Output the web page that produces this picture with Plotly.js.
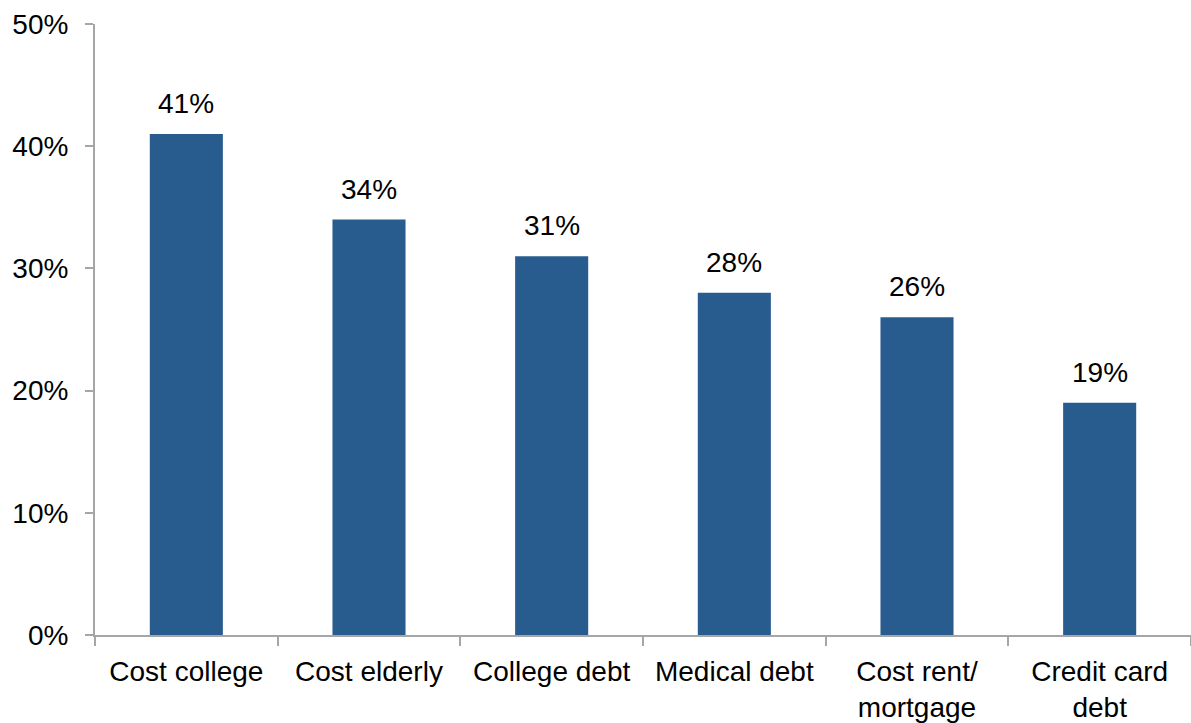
<!DOCTYPE html>
<html>
<head>
<meta charset="utf-8">
<script src="https://cdn.plot.ly/plotly-3.0.1.min.js"></script>
<style>html,body{margin:0;padding:0;background:#fff;}#chart{width:1191px;height:723px;}</style>
</head>
<body>
<div id="chart"></div>
<script>
var categories = ["Cost college", "Cost elderly", "College debt", "Medical debt", "Cost rent/<br>mortgage", "Credit card<br>debt"];
var values = [0.41, 0.34, 0.31, 0.28, 0.26, 0.19];
var labels = ["41%", "34%", "31%", "28%", "26%", "19%"];

var trace = {
  type: "bar",
  x: categories,
  y: values,
  marker: {color: "#285C8E"},
  width: 0.4,
  hoverinfo: "none"
};

var annotations = categories.map(function(c, i) {
  return {
    x: c, y: values[i], xref: "x", yref: "y",
    text: labels[i], showarrow: false,
    yanchor: "bottom", yshift: 13,
    font: {family: "Liberation Sans, Arial, sans-serif", size: 28, color: "#000"}
  };
});

var layout = {
  width: 1191, height: 723,
  margin: {l: 95, r: 0, t: 24, b: 88},
  paper_bgcolor: "#fff", plot_bgcolor: "#fff",
  showlegend: false,
  font: {family: "Liberation Sans, Arial, sans-serif", size: 28, color: "#000"},
  xaxis: {
    type: "category",
    showline: true, linecolor: "#a6a6a6", linewidth: 2,
    ticks: "outside", tickson: "boundaries", ticklen: 9, tickcolor: "#a6a6a6", tickwidth: 2,
    showgrid: false, zeroline: false,
    ticklabelstandoff: 10,
    tickfont: {size: 28, color: "#000"}
  },
  yaxis: {
    range: [0, 0.5], tickvals: [0, 0.1, 0.2, 0.3, 0.4, 0.5],
    tickformat: ".0%",
    showline: true, linecolor: "#a6a6a6", linewidth: 2,
    ticks: "outside", ticklen: 8, tickcolor: "#a6a6a6", tickwidth: 2,
    showgrid: false, zeroline: false,
    ticklabelstandoff: 11,
    tickfont: {size: 28, color: "#000"}
  },
  annotations: annotations
};

Plotly.newPlot("chart", [trace], layout, {displayModeBar: false, staticPlot: true});
</script>
</body>
</html>
